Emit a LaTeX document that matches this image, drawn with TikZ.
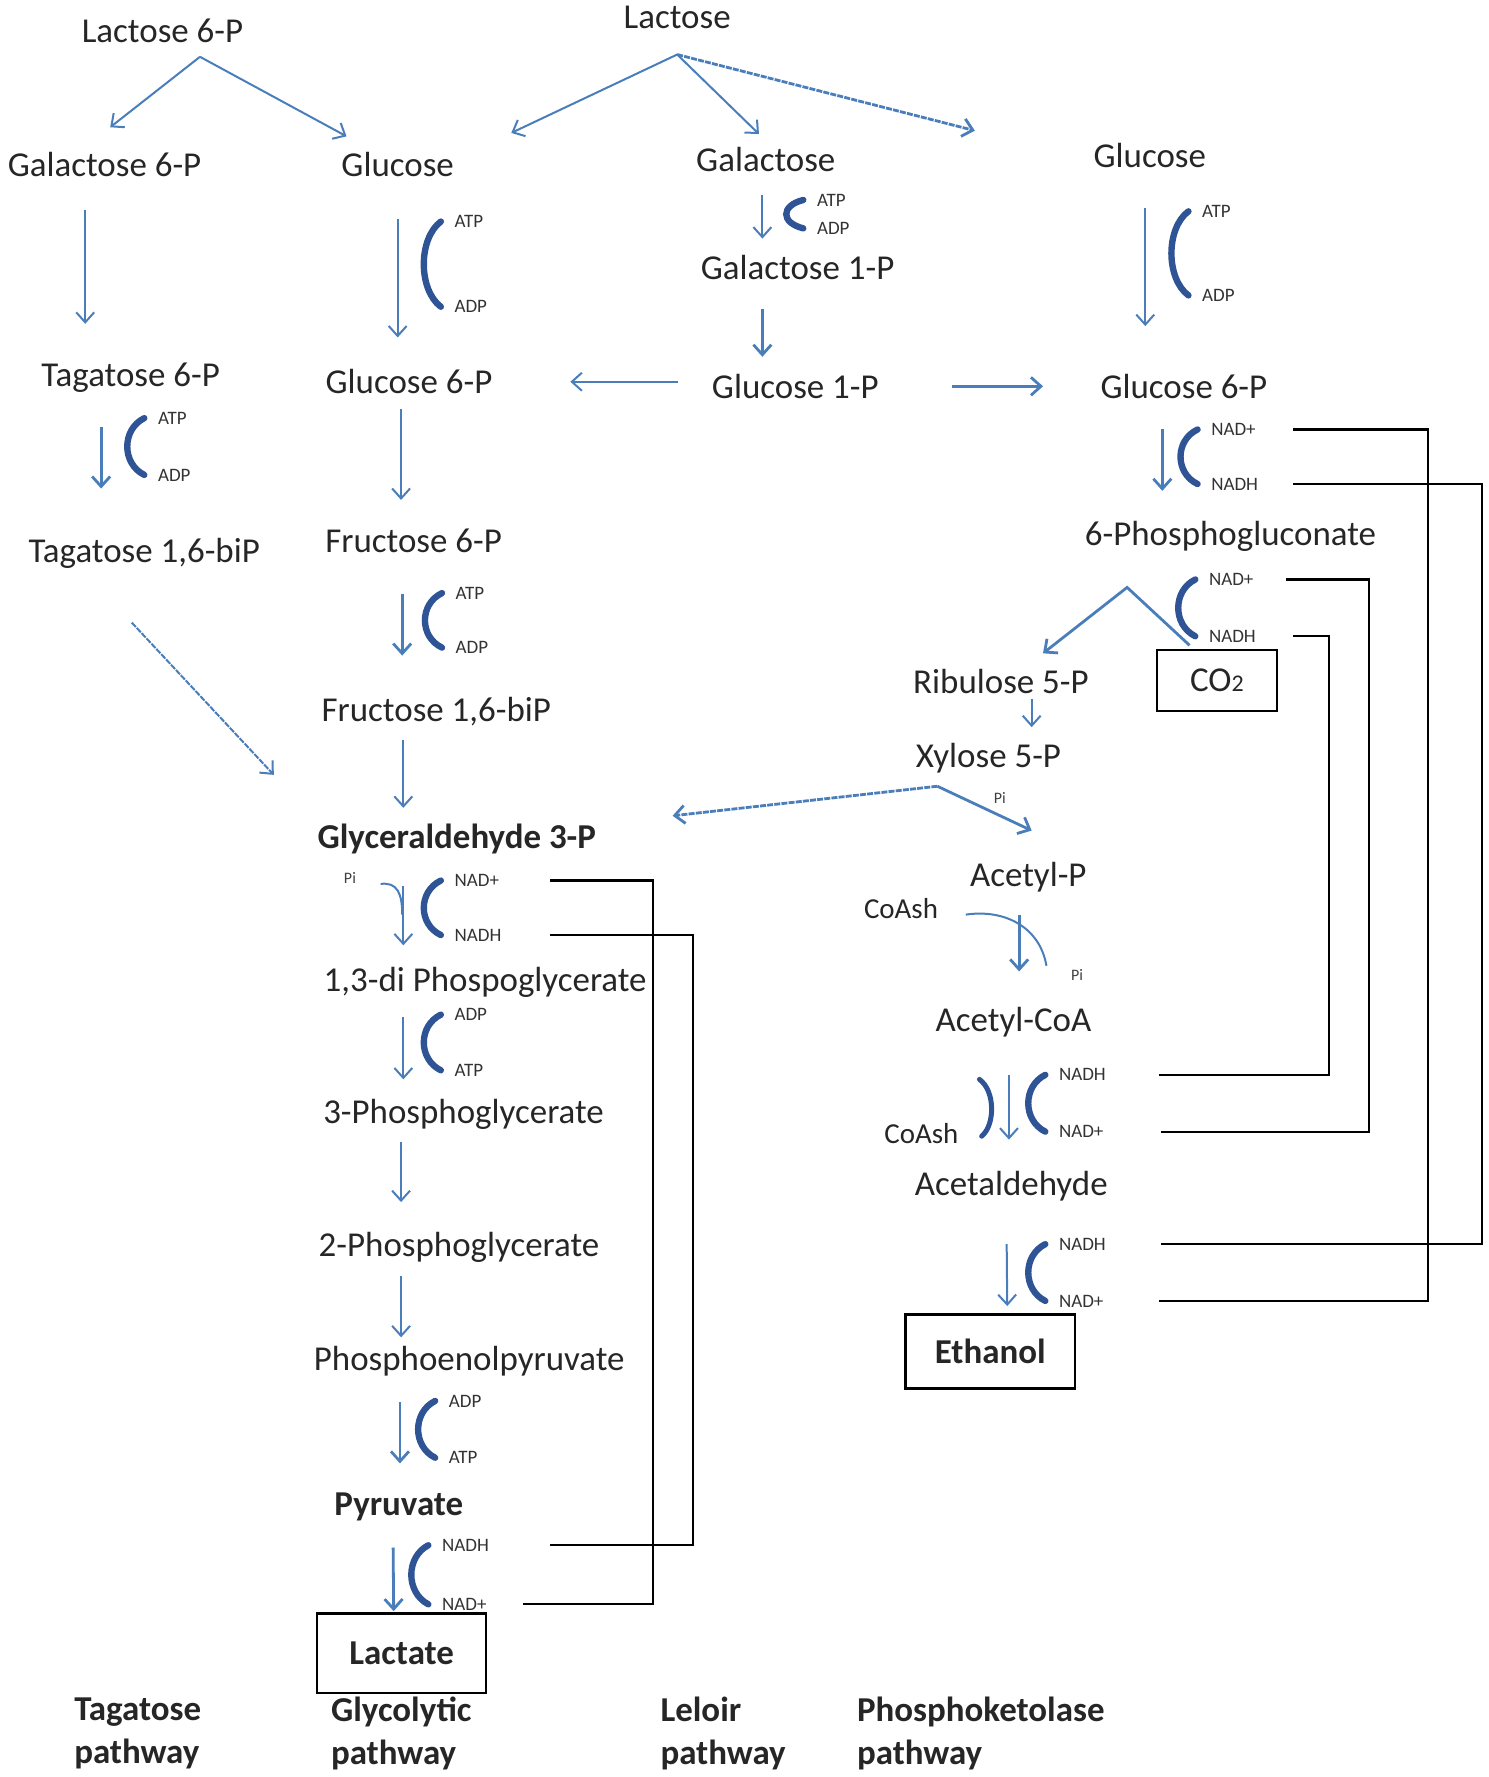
\documentclass[tikz,border=0pt]{standalone}
\usepackage{fontspec}
\setmainfont{Carlito}
\usetikzlibrary{calc,arrows.meta}

\definecolor{flowblue}{HTML}{4A7EBB}
\definecolor{arcblue}{HTML}{2F5496}

\tikzset{
  met/.style={font=\fontsize{17.5}{20}\selectfont, text=black!85, inner sep=1pt},
  metb/.style={met, font=\fontsize{17.5}{20}\selectfont\bfseries},
  minor/.style={font=\fontsize{14.5}{16}\selectfont, text=black!85, inner sep=1pt},
  pilabel/.style={font=\fontsize{8}{9}\selectfont, text=black!75, inner sep=1pt},
  cof/.style={font=\fontsize{9.5}{10}\selectfont, text=black!80, inner sep=1pt, anchor=west},
  prod/.style={draw=black, line width=1.1pt, font=\fontsize{17.5}{20}\selectfont, text=black!85},
  flowline/.style={draw=flowblue, line width=1pt},
  flow/.style={flowline, -{Straight Barb[length=5pt,width=9pt]}},
  flowthick/.style={flow, line width=1.4pt},
  flowtex/.style={flow, line width=1.4pt, dash pattern=on 3pt off 0.6pt},
  cofarc/.style={draw=arcblue, line width=3.2pt, line cap=round},
  redox/.style={draw=black, line width=1.1pt},
  way/.style={font=\fontsize{17.5}{21.6}\selectfont\bfseries, text=black!85, align=left, anchor=west, inner sep=0pt}
}

% cofactor bracket: name, x, y top, y bottom, top label, bottom label
\newcommand{\cofac}[6]{%
  \draw[cofarc] (#2,#3) .. controls (#2-20,{#3+0.2*(#4-#3)}) and (#2-20,{#3+0.8*(#4-#3)}) .. (#2,#4);
  \node[cof] (#1t) at (#2+10,#3) {#5};
  \node[cof] (#1b) at (#2+10,#4) {#6};
}

\begin{document}
\begin{tikzpicture}[x=0.02cm, y=-0.02cm]
  \useasboundingbox (0,0) rectangle (1310,1564);

  % metabolites
  \node[met] (lac6p) at (143,27) {Lactose 6-P};
  \node[met] (lac) at (596,15) {Lactose};
  \node[met] (gal6p) at (92,145) {Galactose 6-P};
  \node[met] (glcA) at (350,145) {Glucose};
  \node[met] (gal) at (674,140) {Galactose};
  \node[met] (glcB) at (1012,137) {Glucose};
  \node[met] (gal1p) at (702,235) {Galactose 1-P};
  \node[met] (tag6p) at (115,332) {Tagatose 6-P};
  \node[met] (g6pA) at (360,336) {Glucose 6-P};
  \node[met] (glc1p) at (700,340) {Glucose 1-P};
  \node[met] (g6pB) at (1042,340) {Glucose 6-P};
  \node[met] (tag16) at (127,487) {Tagatose 1,6-biP};
  \node[met] (f6p) at (364,476) {Fructose 6-P};
  \node[met] (pg6) at (1083,472) {6-Phosphogluconate};
  \node[met] (f16) at (384,626) {Fructose 1,6-biP};
  \node[met] (rib) at (881,600) {Ribulose 5-P};
  \node[prod, minimum width=2.12cm, minimum height=1.08cm, text depth=0pt] (co2) at (1071,599) {CO{\fontsize{12}{12}\selectfont 2}\hspace{0.3cm}};
  \node[met] (xyl) at (870,667) {Xylose 5-P};
  \node[metb] (g3p) at (402,738) {Glyceraldehyde 3-P};
  \node[met] (acp) at (905,772) {Acetyl-P};
  \node[minor] (coa1) at (793,800) {CoAsh};
  \node[met] (dpg) at (427,865) {1,3-di Phospoglycerate};
  \node[met] (acoa) at (892,900) {Acetyl-CoA};
  \node[met] (pg3) at (408,981) {3-Phosphoglycerate};
  \node[minor] (coa2) at (811,998) {CoAsh};
  \node[met] (ald) at (890,1044) {Acetaldehyde};
  \node[met] (pg2) at (404,1098) {2-Phosphoglycerate};
  \node[prod, minimum width=2.98cm, minimum height=1.3cm] (eth) at (871.5,1189.5) {\bfseries Ethanol};
  \node[met] (pep) at (413,1198) {Phosphoenolpyruvate};
  \node[metb] (pyr) at (351,1326) {Pyruvate};
  \node[prod, minimum width=2.98cm, minimum height=1.4cm] (lact) at (353.5,1455) {\bfseries Lactate};

  \node[pilabel] (pi1) at (308,773) {Pi};
  \node[pilabel] (pi2) at (880,702) {Pi};
  \node[pilabel] (pi3) at (948,858) {Pi};

  % pathway names
  \node[way] (wtag) at (65,1526) {Tagatose\\pathway};
  \node[way] (wgly) at (291,1526) {Glycolytic\\pathway};
  \node[way] (wlel) at (581,1526) {Leloir\\pathway};
  \node[way] (wpk) at (754,1526) {Phosphoketolase\\pathway};

  % cofactors
  \cofac{glcA}{388}{195}{270}{ATP}{ADP}
  \cofac{gal}{707}{176}{201}{ATP}{ADP}
  \cofac{glcB}{1046}{186}{260}{ATP}{ADP}
  \cofac{tag}{127}{368}{418}{ATP}{ADP}
  \cofac{g6pB}{1054}{378}{426}{NAD+}{NADH}
  \cofac{f6p}{389}{522}{570}{ATP}{ADP}
  \cofac{pg6}{1052}{510}{560}{NAD+}{NADH}
  \cofac{g3p}{388}{775}{823}{NAD+}{NADH}
  \cofac{dpg}{388}{893}{942}{ADP}{ATP}
  \cofac{pep}{383}{1233}{1283}{ADP}{ATP}
  \cofac{pyr}{377}{1360}{1412}{NADH}{NAD+}
  \cofac{acoa}{920}{946}{996}{NADH}{NAD+}
  \cofac{ald}{920}{1095}{1145}{NADH}{NAD+}
  \draw[cofarc, line width=2.5pt] ($(coa2)+(51,-48)$) .. controls ($(coa2)+(65,-38)$) and ($(coa2)+(65,-8)$) .. ($(coa2)+(53,2)$);

  % lactose splits
  \draw[flow] ($(lac6p)+(33,23)$) -- ($(gal6p)+(5,-33)$);
  \draw[flow] ($(lac6p)+(33,23)$) -- ($(glcA)+(-45,-25)$);
  \draw[flow] ($(lac)+(0,33)$) -- ($(glcA)+(100,-28)$);
  \draw[flow] ($(lac)+(0,33)$) -- ($(gal)+(-6,-22)$);
  \draw[flowtex] ($(lac)+(0,33)$) -- ($(glcB)+(-154,-22)$);

  % tagatose pathway
  \draw[flow] ($(gal6p)+(-17,40)$) -- ($(tag6p)+(-40,-47)$);
  \draw[flowthick] ($(tag6p)+(-26,44)$) -- ($(tag16)+(-38,-57)$);
  \draw[flowtex, line width=1pt] ($(tag16)+(-11,61)$) -- ($(g3p)+(-161,-56)$);

  % glycolytic pathway
  \draw[flow] ($(glcA)+(0,48)$) -- ($(g6pA)+(-10,-39)$);
  \draw[flow] ($(g6pA)+(-7,24)$) -- ($(f6p)+(-11,-36)$);
  \draw[flowthick] ($(f6p)+(-10,47)$) -- ($(f16)+(-30,-49)$);
  \draw[flow] ($(f16)+(-29,25)$) -- ($(g3p)+(-47,-27)$);
  \draw[flow] ($(g3p)+(-47,42)$) -- ($(dpg)+(-72,-33)$);
  \draw[flowline] ($(pi1)+(27,5)$) .. controls ($(pi1)+(42,3)$) and ($(pi1)+(46,14)$) .. ($(pi1)+(46,32)$);
  \draw[flow] ($(dpg)+(-72,30)$) -- ($(pg3)+(-53,-31)$);
  \draw[flow] ($(pg3)+(-55,24)$) -- ($(pg2)+(-51,-40)$);
  \draw[flow] ($(pg2)+(-51,25)$) -- ($(pep)+(-60,-21)$);
  \draw[flowthick] ($(pep)+(-61,36)$) -- ($(pyr)+(1,-38)$);
  \draw[flowthick] ($(pyr)+(-5,36)$) -- ($(lact)+(-7,-37)$);

  % leloir pathway
  \draw[flow] ($(gal)+(-3,32)$) -- ($(gal1p)+(-31,-25)$);
  \draw[flowthick] ($(gal1p)+(-31,37)$) -- ($(glc1p)+(-29,-26)$);
  \draw[flow] ($(glc1p)+(-103,-4)$) -- ($(g6pA)+(142,0)$);
  \draw[flowthick] ($(glc1p)+(138,0)$) -- ($(g6pB)+(-124,0)$);

  % phosphoketolase pathway
  \draw[flow] ($(glcB)+(-4,46)$) -- ($(g6pB)+(-34,-53)$);
  \draw[flowthick] ($(g6pB)+(-19,38)$) -- ($(pg6)+(-60,-40)$);
  \draw[flowthick] ($(co2)+(-24,-31)$) -- ($(pg6)+(-91,45)$) -- ($(rib)+(37,-25)$);
  \draw[flow] ($(rib)+(27,15)$) -- ($(xyl)+(38,-27)$);
  \draw[flowtex] ($(xyl)+(-45,25)$) -- ($(g3p)+(190,-20)$);
  \draw[flowthick] ($(xyl)+(-45,25)$) -- ($(acp)+(3,-41)$);
  \draw[flowthick] ($(acp)+(-8,33)$) -- ($(acoa)+(5,-45)$);
  \draw[flowline] ($(coa1)+(57,5)$) .. controls ($(coa1)+(90,0)$) and ($(coa1)+(122,15)$) .. ($(coa1)+(128,50)$);
  \draw[flow] ($(acoa)+(-4,46)$) -- ($(ald)+(-2,-41)$);
  \draw[flow] ($(ald)+(-4,51)$) -- ($(eth)+(15,-40)$);

  % NAD+/NADH recycling
  \draw[redox] ($(g3pt.west)+(86,0)$) -| ($(pyrb.west)+(188,0)$) -- ($(pyrb.west)+(73,0)$);
  \draw[redox] ($(g3pb.west)+(86,0)$) -| ($(pyrt.west)+(223,0)$) -- ($(pyrt.west)+(97,0)$);
  \draw[redox] ($(g6pBt.west)+(74,0)$) -| ($(aldb.west)+(327,0)$) -- ($(aldb.west)+(90,0)$);
  \draw[redox] ($(g6pBb.west)+(74,0)$) -| ($(aldt.west)+(374,0)$) -- ($(aldt.west)+(92,0)$);
  \draw[redox] ($(pg6t.west)+(70,0)$) -| ($(acoab.west)+(275,0)$) -- ($(acoab.west)+(92,0)$);
  \draw[redox] ($(pg6b.west)+(76,0)$) -| ($(acoat.west)+(240,0)$) -- ($(acoat.west)+(90,0)$);
\end{tikzpicture}
\end{document}
